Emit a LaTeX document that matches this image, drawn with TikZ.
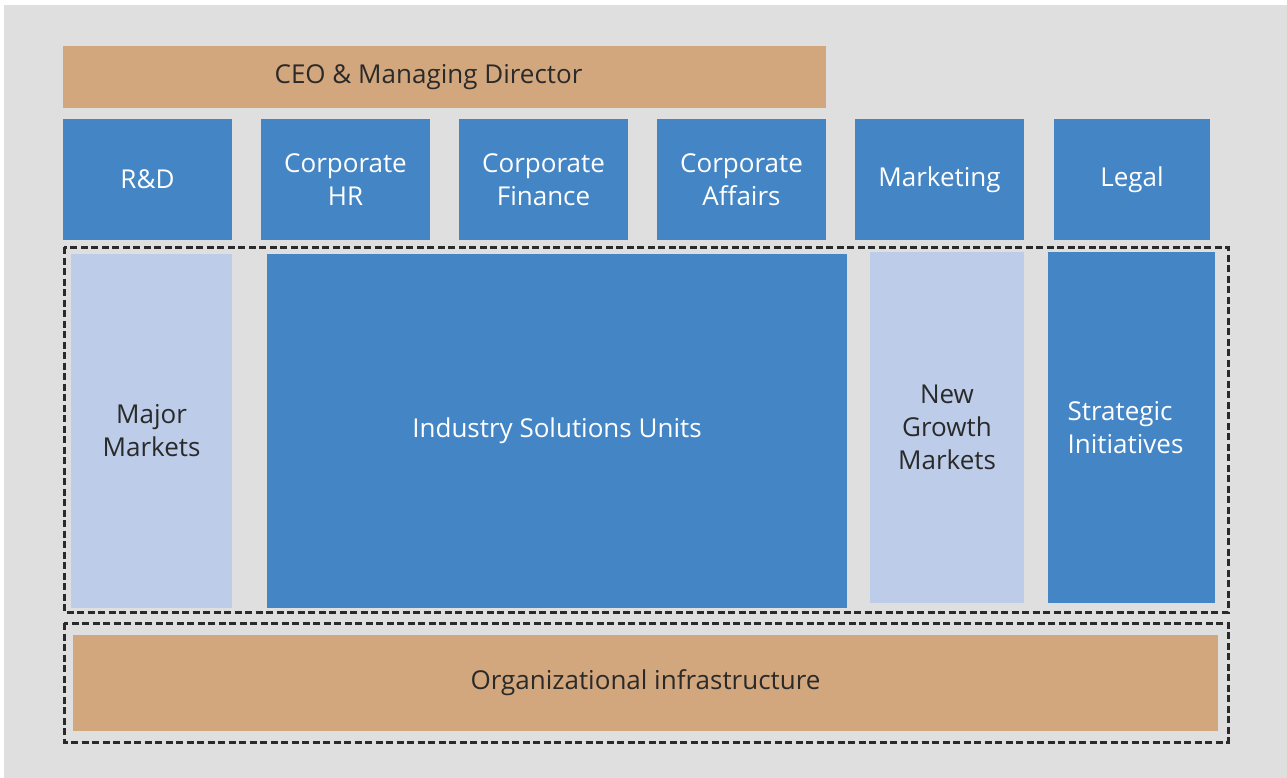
\documentclass[tikz,border=0pt]{standalone}
\usepackage{fontspec}
\setmainfont{Open Sans}
\usepackage{xcolor}

\definecolor{pagegrey}{HTML}{DFDFDF}
\definecolor{tan}{HTML}{D3A77D}
\definecolor{midblue}{HTML}{4486C5}
\definecolor{paleblue}{HTML}{BDCCE9}
\definecolor{inkgrey}{HTML}{2A2A2A}

\tikzset{
  unitbox/.style={rectangle, inner sep=0pt, align=center,
    font=\fontsize{26}{33}\selectfont},
  tanbox/.style={unitbox, fill=tan, text=inkgrey},
  bluebox/.style={unitbox, fill=midblue, text=white},
  palebox/.style={unitbox, fill=paleblue, text=inkgrey},
  groupline/.style={draw=inkgrey, line width=3pt, dash pattern=on 7pt off 3.5pt}
}

\begin{document}
\begin{tikzpicture}[x=1pt, y=-1pt]
        \useasboundingbox (0, 0) rectangle (1287, 778);
        \fill[pagegrey] (4, 5) rectangle (1287, 778);

        % top of the chart
        \node[tanbox, minimum width=763pt, minimum height=62pt] (ceo) at (444.5, 77) {CEO \& Managing Director\hspace*{32pt}};

        \foreach \x/\name/\txt in {147.5/rd/R\&D, 345.5/hr/{Corporate\\HR}, 543.5/finance/{Corporate\\Finance}, 741.5/affairs/{Corporate\\Affairs}, 939.5/marketing/Marketing}
            \node[bluebox, minimum width=169pt, minimum height=121pt] (\name) at (\x, 179.5) {\txt};
        \node[bluebox, minimum width=156pt, minimum height=121pt] (legal) at (1132, 179.5) {Legal};

        % business units
        \node[palebox, minimum width=161pt, minimum height=354pt] (major) at (151.5, 431) {Major\\Markets};
        \node[bluebox, minimum width=580pt, minimum height=354pt] (industry) at (557, 431) {Industry Solutions Units};
        \node[palebox, minimum width=154pt, minimum height=351pt] (growth) at (947, 427.5) {New\\Growth\\Markets};
        \node[bluebox, minimum width=167pt, minimum height=351pt, align=left] (strategic) at (1131.5, 427.5) {Strategic\\Initiatives\hspace*{12pt}};

        \node[tanbox, minimum width=1145pt, minimum height=96pt] (infra) at (645.5, 683) {Organizational infrastructure};

        \draw[groupline] (64, 247) rectangle (1228, 612);
        \draw[groupline] (64, 623) rectangle (1228, 742);
    \end{tikzpicture}
\end{document}
